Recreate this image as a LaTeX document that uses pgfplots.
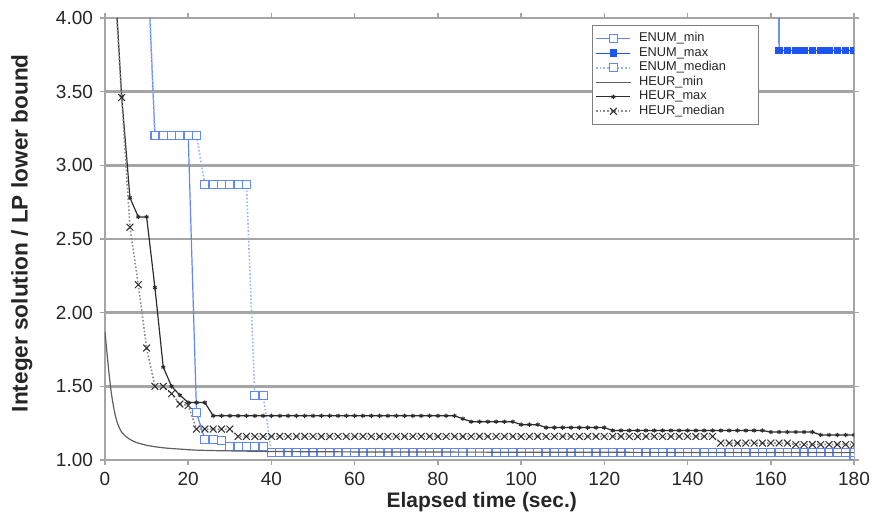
\documentclass[border=0pt]{standalone}
\usepackage{pgfplots}
\pgfplotsset{compat=1.18}
\usepackage{fontspec}
\setmainfont{Liberation Sans}
\definecolor{enummax}{RGB}{30,85,240}
\definecolor{enummin}{RGB}{95,135,245}
\definecolor{enummed}{RGB}{150,180,250}
\definecolor{heurmin}{RGB}{95,95,95}
\definecolor{heurmax}{RGB}{45,45,45}
\definecolor{heurmed}{RGB}{140,140,140}
\definecolor{gridgray}{RGB}{165,165,165}
\begin{document}
\begin{tikzpicture}
\begin{axis}[
  at={(0,0)}, anchor=south west,
  scale only axis, width=374.5pt, height=221pt,
  xmin=0, xmax=180, ymin=1, ymax=4,
  xtick={0,20,...,180}, ytick={1,1.5,...,4},
  /pgf/number format/assume math mode=true,
  yticklabel style={/pgf/number format/fixed,/pgf/number format/fixed zerofill,/pgf/number format/precision=2},
  ticklabel style={font=\fontsize{9.5}{11}\selectfont, text=black!85},
  tick align=outside, major tick length=2.5pt, tick style={gridgray, line width=0.8pt},
  axis line style={gridgray, line width=1.2pt},
  ymajorgrids, grid style={gridgray, line width=1.2pt},
  clip marker paths=true,
  xlabel={\bfseries Elapsed time (sec.)},
  ylabel={\bfseries Integer solution / LP lower bound},
  xlabel style={font=\fontsize{10.5}{12}\selectfont, text=black!85, at={(axis description cs:0.503,-0.095)}, anchor=center},
  ylabel style={font=\fontsize{11.3}{13}\selectfont, text=black!85, at={(axis description cs:-0.111,0.513)}, anchor=center},
  legend style={at={(axis description cs:0.65,0.984)}, anchor=north west,
    draw=gray, line width=0.6pt, font=\fontsize{6.4}{7}\selectfont, text=black!85,
    inner sep=1.5pt, row sep=-2.8pt, cells={anchor=west},
    /tikz/every odd column/.append style={column sep=2pt}},
  legend cell align=left,
]
\addplot[enummin, line width=0.6pt, mark=square*, mark size=2pt, mark options={solid, fill=white, draw=enummin, line width=0.6pt}] table {
10 4.53
12 3.20
14 3.20
16 3.20
18 3.20
20 3.20
22 1.32
24 1.14
26 1.14
28 1.135
30 1.09
32 1.09
34 1.09
36 1.09
38 1.09
40 1.05
42 1.05
44 1.05
46 1.05
48 1.05
50 1.05
52 1.05
54 1.05
56 1.05
58 1.05
60 1.05
62 1.05
64 1.05
66 1.05
68 1.05
70 1.05
72 1.05
74 1.05
76 1.05
78 1.05
80 1.05
82 1.05
84 1.05
86 1.05
88 1.05
90 1.05
92 1.05
94 1.05
96 1.05
98 1.05
100 1.05
102 1.05
104 1.05
106 1.05
108 1.05
110 1.05
112 1.05
114 1.05
116 1.05
118 1.05
120 1.05
122 1.05
124 1.05
126 1.05
128 1.05
130 1.05
132 1.05
134 1.05
136 1.05
138 1.05
140 1.05
142 1.05
144 1.05
146 1.05
148 1.05
150 1.05
152 1.05
154 1.05
156 1.05
158 1.05
160 1.05
162 1.05
164 1.05
166 1.05
168 1.05
170 1.05
172 1.05
174 1.05
176 1.05
178 1.05
180 1.03
};
\addlegendentry{ENUM\_min}
\addplot[enummax, line width=0.6pt, mark=square*, mark size=1.6pt, mark options={solid, fill=enummax}] table {
160 50
162 3.78
164 3.78
166 3.78
168 3.78
170 3.78
172 3.78
174 3.78
176 3.78
178 3.78
180 3.78
};
\addlegendentry{ENUM\_max}
\addplot[enummed, line width=0.8pt, densely dotted, mark=square*, mark size=2pt, mark options={solid, fill=white, draw=enummin, line width=0.6pt}] table {
10 4.53
12 3.20
14 3.20
16 3.20
18 3.20
20 3.20
22 3.20
24 2.87
26 2.87
28 2.87
30 2.87
32 2.87
34 2.87
36 1.44
38 1.44
40 1.05
42 1.05
44 1.05
46 1.05
48 1.05
50 1.05
52 1.05
54 1.05
56 1.05
58 1.05
60 1.05
62 1.05
64 1.05
66 1.05
68 1.05
70 1.05
72 1.05
74 1.05
76 1.05
78 1.05
80 1.05
82 1.05
84 1.05
86 1.05
88 1.05
90 1.05
92 1.05
94 1.05
96 1.05
98 1.05
100 1.05
102 1.05
104 1.05
106 1.05
108 1.05
110 1.05
112 1.05
114 1.05
116 1.05
118 1.05
120 1.05
122 1.05
124 1.05
126 1.05
128 1.05
130 1.05
132 1.05
134 1.05
136 1.05
138 1.05
140 1.05
142 1.05
144 1.05
146 1.05
148 1.05
150 1.05
152 1.05
154 1.05
156 1.05
158 1.05
160 1.05
162 1.05
164 1.05
166 1.05
168 1.05
170 1.05
172 1.05
174 1.05
176 1.05
178 1.05
180 1.05
};
\addlegendentry{\makebox[56pt][l]{ENUM\_median}}
\addplot[heurmin, line width=0.6pt, smooth, tension=0.4, mark=none] table {
0 1.87
0.5 1.72
1 1.58
1.5 1.46
2 1.37
2.5 1.30
3 1.25
3.5 1.215
4 1.19
5 1.16
6 1.14
7 1.125
8 1.115
10 1.10
12 1.09
14 1.083
16 1.078
18 1.074
20 1.07
22 1.067
26 1.064
30 1.062
40 1.058
60 1.055
100 1.053
180 1.05
};
\addlegendentry{HEUR\_min}
\addplot[heurmax, line width=0.6pt, mark=asterisk, mark size=1.1pt, mark options={solid, line width=0.5pt}] table {
2 4.45
4 3.47
6 2.78
8 2.65
10 2.65
12 2.17
14 1.63
16 1.50
18 1.44
20 1.39
22 1.39
24 1.39
26 1.30
28 1.30
30 1.30
32 1.30
34 1.30
36 1.30
38 1.30
40 1.30
42 1.30
44 1.30
46 1.30
48 1.30
50 1.30
52 1.30
54 1.30
56 1.30
58 1.30
60 1.30
62 1.30
64 1.30
66 1.30
68 1.30
70 1.30
72 1.30
74 1.30
76 1.30
78 1.30
80 1.30
82 1.30
84 1.30
86 1.28
88 1.26
90 1.26
92 1.26
94 1.26
96 1.26
98 1.26
100 1.24
102 1.24
104 1.24
106 1.22
108 1.22
110 1.22
112 1.22
114 1.22
116 1.22
118 1.22
120 1.22
122 1.20
124 1.20
126 1.20
128 1.20
130 1.20
132 1.20
134 1.20
136 1.20
138 1.20
140 1.20
142 1.20
144 1.20
146 1.20
148 1.20
150 1.20
152 1.20
154 1.20
156 1.20
158 1.20
160 1.19
162 1.19
164 1.19
166 1.19
168 1.19
170 1.19
172 1.17
174 1.17
176 1.17
178 1.17
180 1.17
};
\addlegendentry{HEUR\_max}
\addplot[heurmed, line width=0.8pt, densely dotted, mark=x, mark size=2.4pt, mark options={solid, draw=heurmax, line width=0.5pt}] table {
2 4.36
4 3.46
6 2.58
8 2.19
10 1.76
12 1.50
14 1.50
16 1.45
18 1.38
20 1.37
22 1.21
24 1.21
26 1.21
28 1.21
30 1.21
32 1.16
34 1.16
36 1.16
38 1.16
40 1.16
42 1.16
44 1.16
46 1.16
48 1.16
50 1.16
52 1.16
54 1.16
56 1.16
58 1.16
60 1.16
62 1.16
64 1.16
66 1.16
68 1.16
70 1.16
72 1.16
74 1.16
76 1.16
78 1.16
80 1.16
82 1.16
84 1.16
86 1.16
88 1.16
90 1.16
92 1.16
94 1.16
96 1.16
98 1.16
100 1.16
102 1.16
104 1.16
106 1.16
108 1.16
110 1.16
112 1.16
114 1.16
116 1.16
118 1.16
120 1.16
122 1.16
124 1.16
126 1.16
128 1.16
130 1.16
132 1.16
134 1.16
136 1.16
138 1.16
140 1.16
142 1.16
144 1.16
146 1.16
148 1.115
150 1.115
152 1.115
154 1.115
156 1.115
158 1.115
160 1.115
162 1.115
164 1.115
166 1.105
168 1.105
170 1.105
172 1.105
174 1.105
176 1.105
178 1.105
180 1.105
};
\addlegendentry{HEUR\_median}
\end{axis}
\pgfresetboundingbox
\path[use as bounding box] (-52.5pt,-33.5pt) rectangle (386pt,230pt);
\end{tikzpicture}
\end{document}
